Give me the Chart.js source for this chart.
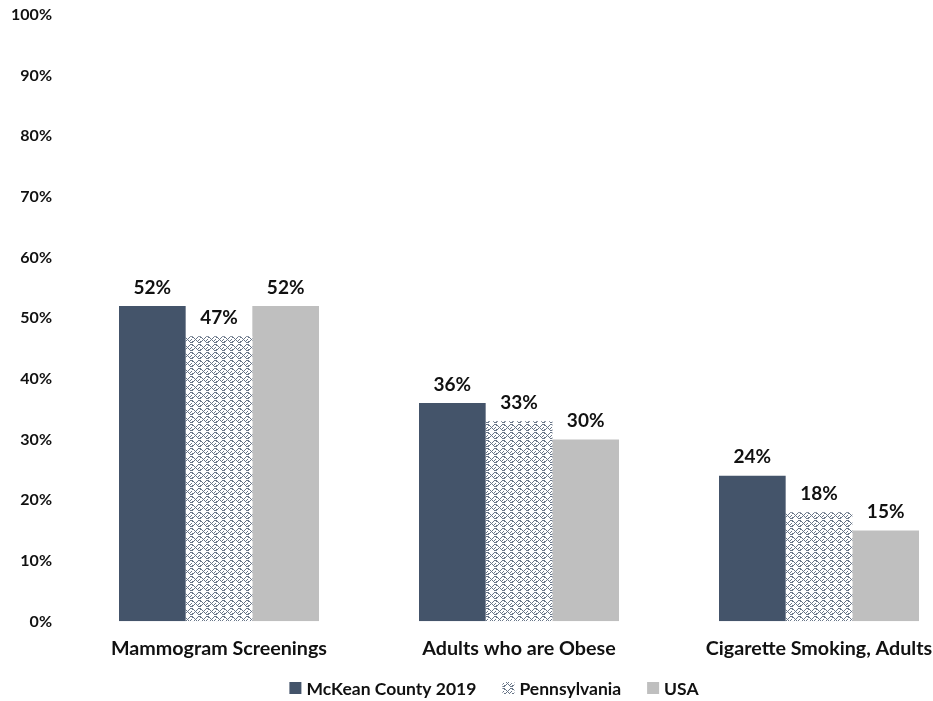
<!DOCTYPE html>
<html>
<head>
<meta charset="utf-8">
<script src="https://cdn.jsdelivr.net/npm/chart.js@4"></script>
<style>
  html, body { margin: 0; padding: 0; background: #fff; overflow: hidden; }
  #wrap { position: relative; width: 988px; height: 701px; }
</style>
</head>
<body>
<div id="wrap"><canvas id="c" width="988" height="701"></canvas></div>
<script>
// Health indicators, share of population
const categories = ['Mammogram Screenings', 'Adults who are Obese', 'Cigarette Smoking, Adults'];
const seriesNames = ['McKean County 2019', 'Pennsylvania', 'USA'];
const mckeanValues = [52, 36, 24];
const pennsylvaniaValues = [47, 33, 18];
const usaValues = [52, 30, 15];
const yTicks = [0, 10, 20, 30, 40, 50, 60, 70, 80, 90, 100];

const DARK = '#44546A';
const GRAY = '#BFBFBF';
const FONT = 'Lato, "Open Sans", sans-serif';

// Zigzag weave fill used for the state series
function makeWave() {
  const rows = [
    'X.....XX',
    'XX...X..',
    '..X.X...',
    '...X...X',
    '..X.X.X.',
    'XX...X..',
    'X.....XX',
    '........'
  ];
  const t = document.createElement('canvas');
  t.width = 8; t.height = 8;
  const g = t.getContext('2d');
  g.fillStyle = '#ffffff';
  g.fillRect(0, 0, 8, 8);
  g.fillStyle = 'rgba(68,84,106,0.8)';
  rows.forEach((r, y) => {
    for (let x = 0; x < 8; x++) if (r[x] === 'X') g.fillRect(x, y, 1, 1);
  });
  return document.getElementById('c').getContext('2d').createPattern(t, 'repeat');
}
const wave = makeWave();

// Percentage labels above every bar
const valueLabels = {
  id: 'valueLabels',
  afterDatasetsDraw(chart) {
    const ctx = chart.ctx;
    ctx.save();
    ctx.font = 'bold 19px ' + FONT;
    ctx.fillStyle = '#111';
    ctx.textAlign = 'center';
    ctx.textBaseline = 'bottom';
    chart.data.datasets.forEach((ds, i) => {
      chart.getDatasetMeta(i).data.forEach((bar, j) => {
        ctx.fillText(ds.data[j] + '%', bar.x, bar.y - 9);
      });
    });
    ctx.restore();
  }
};

// Single-row legend centred under the plot
const bottomLegend = {
  id: 'bottomLegend',
  afterDraw(chart) {
    const ctx = chart.ctx;
    const box = 12, gap = 5, spacing = 26, y = 688;
    ctx.save();
    ctx.font = 'bold 17.5px ' + FONT;
    ctx.textBaseline = 'middle';
    ctx.textAlign = 'left';
    const items = chart.data.datasets.map(ds => ({
      label: ds.label,
      fill: ds.backgroundColor,
      w: box + gap + ctx.measureText(ds.label).width
    }));
    const total = items.reduce((s, it) => s + it.w, 0) + spacing * (items.length - 1);
    let x = chart.width / 2 - total / 2;
    items.forEach(it => {
      ctx.fillStyle = it.fill;
      ctx.fillRect(x, y - box / 2, box, box);
      ctx.fillStyle = '#111';
      ctx.fillText(it.label, x + box + gap, y + 1);
      x += it.w + spacing;
    });
    ctx.restore();
  }
};

new Chart(document.getElementById('c'), {
  type: 'bar',
  data: {
    labels: categories,
    datasets: [
      { label: seriesNames[0], data: mckeanValues, backgroundColor: DARK },
      { label: seriesNames[1], data: pennsylvaniaValues, backgroundColor: wave },
      { label: seriesNames[2], data: usaValues, backgroundColor: GRAY }
    ]
  },
  options: {
    responsive: false,
    animation: false,
    devicePixelRatio: 1,
    layout: { padding: { top: 15, right: 19, bottom: 26, left: 0 } },
    datasets: { bar: { categoryPercentage: 2 / 3, barPercentage: 1 } },
    scales: {
      x: {
        grid: { display: false, drawTicks: false },
        border: { display: false },
        ticks: {
          color: '#111',
          font: { family: FONT, size: 19.7, weight: 'bold' },
          padding: 15,
          maxRotation: 0,
          autoSkip: false
        }
      },
      y: {
        min: 0, max: 100,
        afterBuildTicks(axis) { axis.ticks = yTicks.map(v => ({ value: v })); },
        afterFit(axis) {
          axis.width = 69;
          axis.paddingTop = 0;
          axis.paddingBottom = 0;
        },
        grid: { display: false, drawTicks: false },
        border: { display: false },
        ticks: {
          color: '#111',
          font: { family: FONT, size: 16, weight: 'bold' },
          padding: 17,
          callback: v => v + '%'
        }
      }
    },
    plugins: {
      tooltip: { enabled: false },
      legend: { display: false }
    }
  },
  plugins: [valueLabels, bottomLegend]
});
</script>
</body>
</html>
